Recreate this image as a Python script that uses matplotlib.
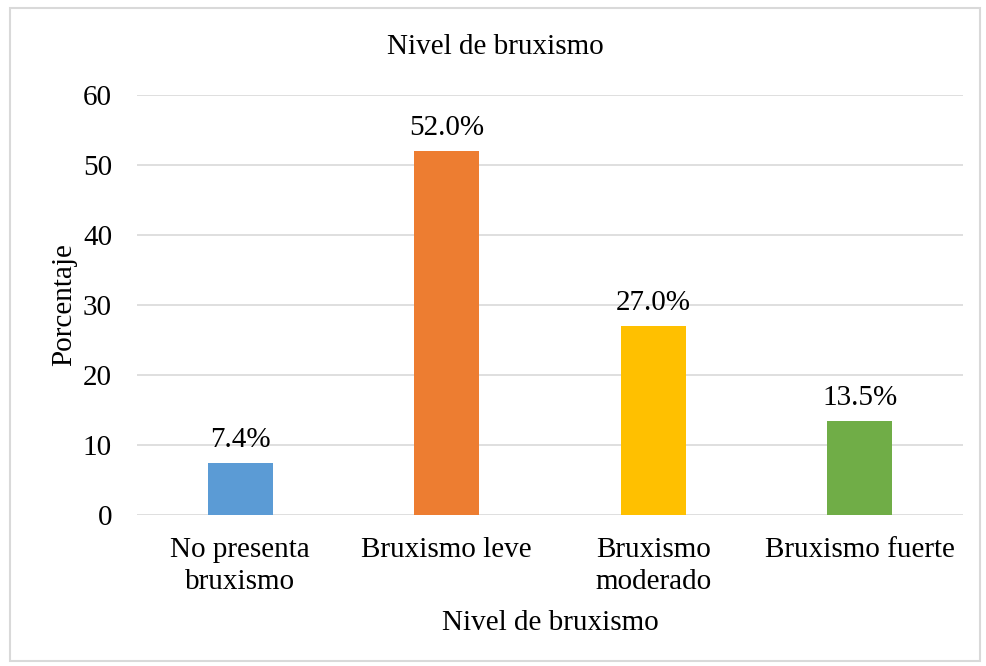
#!/usr/bin/env python3

import matplotlib
matplotlib.use("Agg")
import matplotlib.pyplot as plt
from matplotlib.patches import Rectangle

categories = ["No presenta\nbruxismo", "Bruxismo leve", "Bruxismo\nmoderado", "Bruxismo fuerte"]
values = [7.4, 52.0, 27.0, 13.5]
labels = ["7.4%", "52.0%", "27.0%", "13.5%"]
colors = ["#5b9bd5", "#ed7d31", "#ffc000", "#70ad47"]
y_ticks = [0, 10, 20, 30, 40, 50, 60]

plt.rcParams["font.family"] = ["Liberation Serif", "DejaVu Serif"]
fs = 21

W, H = 987, 666
fig = plt.figure(figsize=(W / 100, H / 100), dpi=100)

# outer chart border
fig.patches.append(Rectangle((10 / W, 1 - 661 / H), 970 / W, 653 / H, transform=fig.transFigure,
                             fill=False, edgecolor="#d9d9d9", lw=1.5))

ax = fig.add_axes([137 / W, 1 - 515 / H, 826 / W, 420 / H])
x = list(range(len(categories)))
ax.bar(x, values, width=0.315, color=colors, zorder=3)
for xi, v, lab in zip(x, values, labels):
    ax.annotate(lab, (xi, v), xytext=(0, 7), textcoords="offset points",
                ha="center", va="bottom", fontsize=fs)

ax.set_xlim(-0.5, len(categories) - 0.5)
ax.set_ylim(0, 60)
ax.set_yticks(y_ticks)
ax.set_yticklabels(y_ticks, fontsize=fs)
ax.set_xticks(x)
ax.set_xticklabels(categories, fontsize=fs, linespacing=1.3)
ax.tick_params(length=0)
ax.tick_params(axis="x", pad=16)
ax.tick_params(axis="y", pad=18)
ax.grid(axis="y", color="#d9d9d9", lw=1.2, zorder=0)
for s in ax.spines.values():
    s.set_visible(False)

ax.set_ylabel("Porcentaje", fontsize=fs, labelpad=4)
ax.set_xlabel("Nivel de bruxismo", fontsize=fs, labelpad=11)
fig.text(495 / W, 1 - 47 / H, "Nivel de bruxismo", ha="center", va="center", fontsize=fs)

plt.savefig("out.png", dpi=100)
